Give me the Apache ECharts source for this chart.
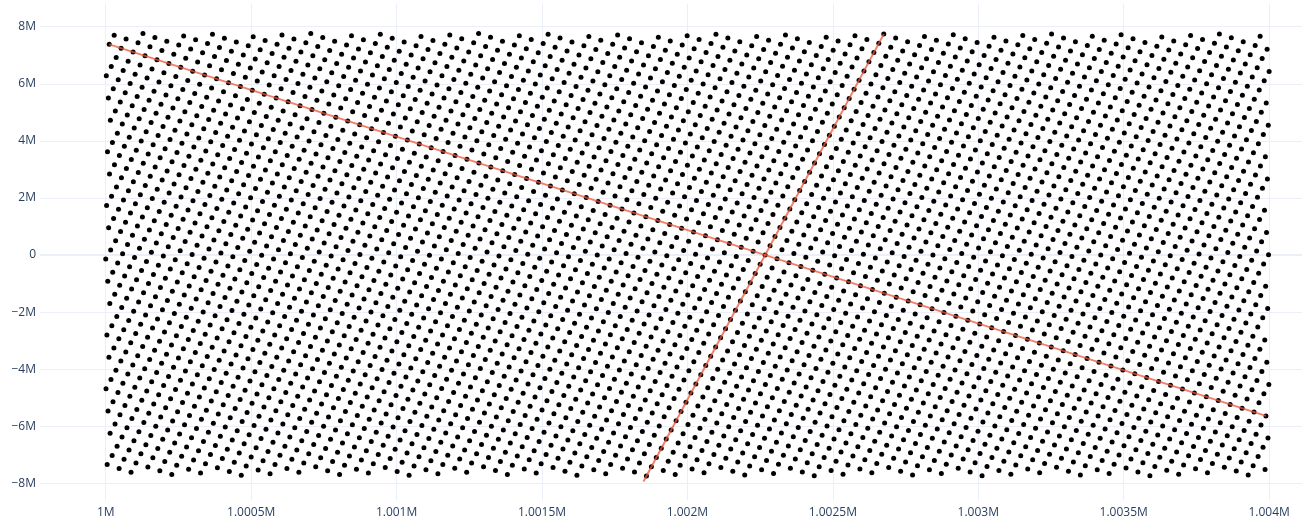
<!DOCTYPE html>
<html>
<head>
<meta charset="utf-8">
<script src="https://cdn.jsdelivr.net/npm/echarts@6/dist/echarts.min.js"></script>
<style>
html,body{margin:0;padding:0;background:#ffffff;}
#chart{width:1302px;height:526px;}
</style>
</head>
<body>
<div id="chart"></div>
<script>
// ---- data ----
// The dots form a regular lattice (one dot per integer x). It is described by
// a lattice point, two basis steps and the window the dots fill.
const latticeOrigin = [1002267, 0];
const basisA = [41, -134200];      // step along the falling red line
const basisB = [17, 322500];       // step along the rising red line
const xBounds = [1000000, 1004000];
const yBounds = [-7740000, 7763900];

// red segments
const lineA = [[1000012, 7381000], [1003989, -5636400]];
const lineB = [[1001849, -7933500], [1002675, 7740000]];

// axis windows
const xRange = [999774, 1004113];
const yRange = [-8583600, 8795400];
const xStep = 500;
const yStep = 2000000;

// ---- build the lattice dots ----
const dots = [];
for (let i = -200; i <= 200; i++) {
  for (let j = -200; j <= 200; j++) {
    const x = latticeOrigin[0] + i * basisA[0] + j * basisB[0];
    const y = latticeOrigin[1] + i * basisA[1] + j * basisB[1];
    if (x >= xBounds[0] && x <= xBounds[1] && y >= yBounds[0] && y < yBounds[1]) {
      dots.push([x, y]);
    }
  }
}

function fmtM(v) {
  if (v === 0) return '0';
  const s = parseFloat((Math.abs(v) / 1e6).toFixed(4)).toString();
  return (v < 0 ? '\u2212' : '') + s + 'M';
}

const labelStyle = { color: '#2a3f5f', fontFamily: 'Open Sans', fontSize: 12 };
const gridColor = '#EBF0F8';

const chart = echarts.init(document.getElementById('chart'), null, { renderer: 'canvas' });
chart.setOption({
  animation: false,
  backgroundColor: '#ffffff',
  grid: { left: 40, right: 0, top: 4, bottom: 26, containLabel: false },
  xAxis: {
    type: 'value',
    min: xRange[0], max: xRange[1],
    minInterval: xStep, maxInterval: xStep,
    axisLine: { show: false },
    axisTick: { show: false },
    splitLine: { show: true, showMinLine: false, showMaxLine: false, lineStyle: { color: gridColor, width: 1 } },
    axisLabel: Object.assign({ margin: 7, showMinLabel: false, showMaxLabel: false, formatter: fmtM }, labelStyle)
  },
  yAxis: {
    type: 'value',
    min: yRange[0], max: yRange[1],
    minInterval: yStep, maxInterval: yStep,
    axisLine: { show: false },
    axisTick: { show: false },
    splitLine: { show: true, showMinLine: false, showMaxLine: false, lineStyle: { color: gridColor, width: 1 } },
    axisLabel: Object.assign({ margin: 4, showMinLabel: false, showMaxLabel: false, formatter: fmtM }, labelStyle)
  },
  series: [
    {
      // zero line across the whole axis window, under the dots
      type: 'line', data: [[xRange[0], 0], [xRange[1], 0]], z: 0, silent: true,
      showSymbol: false,
      lineStyle: { color: gridColor, width: 2 }
    },
    {
      type: 'scatter', data: dots, symbol: 'circle', symbolSize: 5,
      large: false, progressive: 0, z: 2,
      itemStyle: { color: '#000000', opacity: 1 }
    },
    {
      type: 'line', data: lineA, showSymbol: false, z: 3,
      lineStyle: { color: '#EF553B', width: 2, opacity: 0.75 }
    },
    {
      type: 'line', data: lineB, showSymbol: false, z: 3,
      lineStyle: { color: '#EF553B', width: 2, opacity: 0.75 }
    }
  ]
});
</script>
</body>
</html>
